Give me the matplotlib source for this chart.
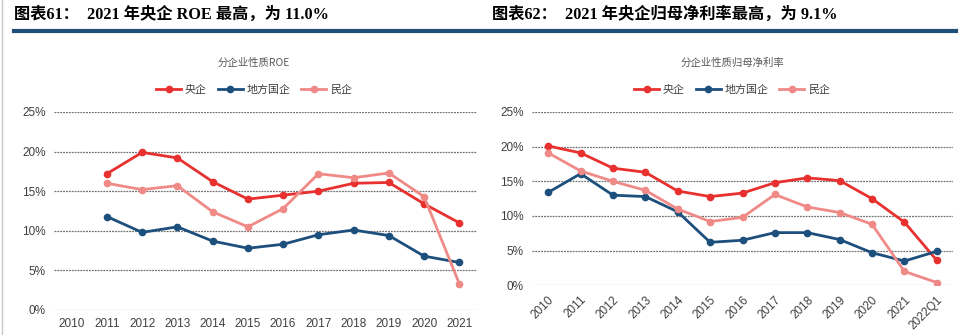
import numpy as np
import matplotlib.pyplot as plt
from matplotlib.lines import Line2D

plt.rcParams['font.family'] = ['Liberation Sans', 'Noto Sans CJK SC', 'DejaVu Sans']

# ROE by ownership type (%)
roe_years = ['2010', '2011', '2012', '2013', '2014', '2015', '2016',
             '2017', '2018', '2019', '2020', '2021']
roe_central = [np.nan, 17.2, 19.9, 19.2, 16.2, 14.0, 14.5, 15.0, 16.0, 16.1, 13.4, 11.0]
roe_local = [np.nan, 11.8, 9.8, 10.5, 8.7, 7.8, 8.3, 9.5, 10.1, 9.4, 6.8, 6.0]
roe_private = [np.nan, 16.0, 15.2, 15.7, 12.4, 10.5, 12.8, 17.2, 16.7, 17.3, 14.3, 3.3]

# net margin attributable to parent (%)
npm_years = ['2010', '2011', '2012', '2013', '2014', '2015', '2016',
             '2017', '2018', '2019', '2020', '2021', '2022Q1']
npm_central = [20.1, 19.1, 16.9, 16.3, 13.6, 12.8, 13.3, 14.8, 15.5, 15.1, 12.5, 9.1, 3.6]
npm_local = [13.4, 16.1, 13.0, 12.8, 10.6, 6.2, 6.5, 7.6, 7.6, 6.6, 4.7, 3.5, 4.9]
npm_private = [19.1, 16.5, 15.0, 13.7, 11.0, 9.2, 9.8, 13.1, 11.3, 10.5, 8.8, 2.0, 0.4]

names = ['央企', '地方国企', '民企']
colors = ['#E8312F', '#1D4F7D', '#F08A87']

W, H = 959, 335
fig = plt.figure(figsize=(W / 100, H / 100), dpi=100)

# header texts and the blue rule
serif = ['Liberation Serif', 'Noto Sans CJK SC']
fig.text(14 / W, 1 - 15 / H, '图表61：  2021 年央企 ROE 最高，为 11.0%',
         family=serif, fontweight='bold', fontsize=11.7, va='center', ha='left')
fig.text(492 / W, 1 - 15 / H, '图表62：  2021 年央企归母净利率最高，为 9.1%',
         family=serif, fontweight='bold', fontsize=11.7, va='center', ha='left')
fig.add_artist(Line2D([14 / W, 956 / W], [1 - 31 / H] * 2,
                      color='#1F4E79', lw=3, transform=fig.transFigure))
fig.add_artist(Line2D([2 / W] * 2, [0, 1], color='#C8C8C8', lw=1,
                      transform=fig.transFigure))


def draw(ax, years, series, title, center_x, rotate):
    for vals, name, c in zip(series, names, colors):
        ax.plot(years, vals, color=c, lw=2.0, marker='o', markersize=4.5,
                label=name, zorder=3)
    ax.set_xlim(-0.5, len(years) - 0.5)
    ax.set_ylim(0, 25)
    ax.set_yticks([0, 5, 10, 15, 20, 25])
    ax.set_yticklabels([f'{v}%' for v in [0, 5, 10, 15, 20, 25]])
    for v in [5, 10, 15, 20, 25]:
        ax.axhline(v, color='#707070', lw=0.9, ls=(0, (1.5, 0.8)), zorder=1)
    ax.axhline(0, color='#D9D9D9', lw=1.0, zorder=1)
    for s in ax.spines.values():
        s.set_visible(False)
    ax.tick_params(length=0, labelsize=8.5, labelcolor='#404040', pad=6)
    if rotate:
        plt.setp(ax.get_xticklabels(), rotation=45, ha='right',
                 rotation_mode='anchor')
    fig.text(center_x / W, 1 - 63 / H, title, fontsize=7.5, color='#595959',
             ha='center', va='center', family=['Noto Sans CJK SC'])
    ax.legend(loc='center', bbox_to_anchor=(center_x / W, 1 - 90 / H),
              bbox_transform=fig.transFigure, ncol=3,
              frameon=False, fontsize=7.9, handlelength=2.3,
              columnspacing=1.0, handletextpad=0.3, labelcolor='#404040')


ax1 = fig.add_axes([54 / W, 25 / H, 423 / W, 198 / H])
draw(ax1, roe_years, [roe_central, roe_local, roe_private], '分企业性质ROE', 254, False)

ax2 = fig.add_axes([532 / W, 49.7 / H, 421 / W, 173.3 / H])
draw(ax2, npm_years, [npm_central, npm_local, npm_private], '分企业性质归母净利率', 732, True)

fig.savefig('out.png', dpi=100)
